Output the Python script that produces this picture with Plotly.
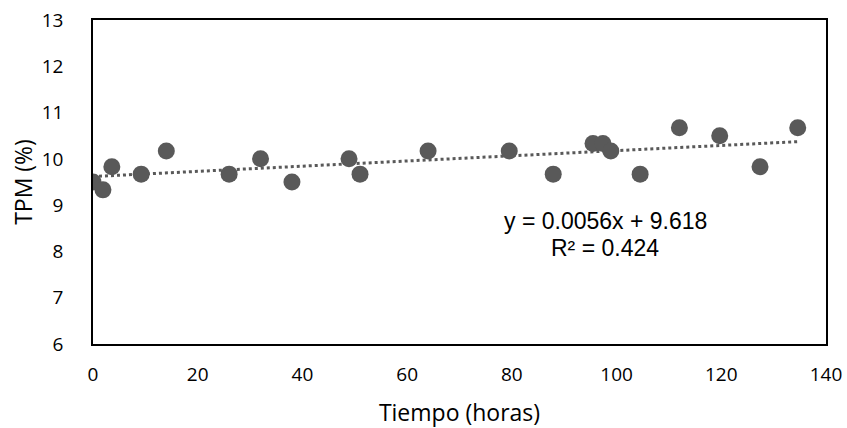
import plotly.graph_objects as go
import numpy as np

tiempo = [0, 1.9, 3.6, 9.2, 14, 26, 32, 38, 48.9, 51, 64, 79.5, 87.9, 95.5, 97.4, 98.9, 104.5, 112, 119.7, 127.4, 134.6]
tpm = [9.5, 9.33, 9.83, 9.67, 10.17, 9.67, 10.0, 9.5, 10.0, 9.67, 10.17, 10.17, 9.67, 10.33, 10.33, 10.17, 9.67, 10.67, 10.5, 9.83, 10.67]
slope = 0.0056
intercept = 9.618
r2 = 0.424

x_fit = np.linspace(min(tiempo), max(tiempo), 50)
y_fit = slope * x_fit + intercept

fig = go.Figure()
fig.add_trace(go.Scatter(x=x_fit, y=y_fit, mode="lines",
                         line=dict(color="#595959", width=3, dash="dot"),
                         hoverinfo="skip", showlegend=False))
fig.add_trace(go.Scatter(x=tiempo, y=tpm, mode="markers",
                         marker=dict(color="#595959", size=17, line=dict(width=0)),
                         showlegend=False))

eq_font = dict(family="Liberation Sans, Arial", size=23, color="black")
fig.add_annotation(x=97.8, y=8.65, xref="x", yref="y", yanchor="middle",
                   text=f"y = {slope}x + {intercept}",
                   showarrow=False, font=eq_font)
fig.add_annotation(x=97.8, y=8.08, xref="x", yref="y", yanchor="middle",
                   text=f"R² = {r2}",
                   showarrow=False, font=eq_font)

fig.update_layout(
    width=847, height=428,
    margin=dict(l=93, r=21, t=20, b=84),
    paper_bgcolor="white", plot_bgcolor="white",
    font=dict(family="Open Sans, sans-serif", size=19, color="black"),
    xaxis=dict(range=[0, 140], dtick=20, showgrid=False, zeroline=False,
               showline=True, linecolor="black", linewidth=1.5, mirror=True,
               ticks="outside", ticklen=12, tickcolor="rgba(0,0,0,0)",
               automargin=False,
               title=dict(text="Tiempo (horas)", standoff=20)),
    yaxis=dict(range=[6, 13], dtick=1, showgrid=False, zeroline=False,
               showline=True, linecolor="black", linewidth=1.5, mirror=True,
               ticks="outside", ticklen=24, tickcolor="rgba(0,0,0,0)",
               automargin=False,
               title=dict(text="TPM (%)", standoff=3)),
)

fig.write_html("out.html")
